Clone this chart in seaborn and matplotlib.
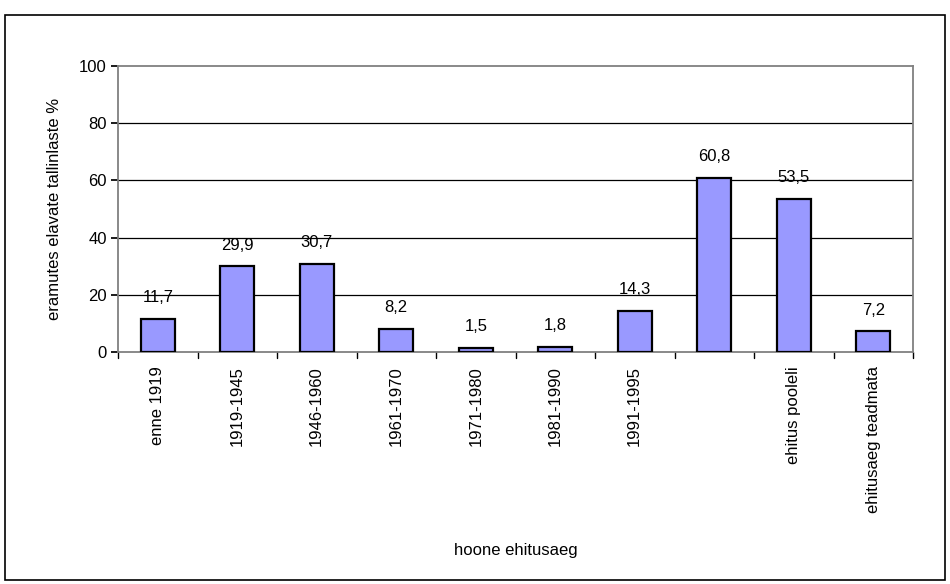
import matplotlib
matplotlib.use("Agg")
import matplotlib.pyplot as plt
import seaborn as sns
import pandas as pd
from matplotlib.patches import Rectangle

# andmed
kategooriad = ["enne 1919", "1919-1945", "1946-1960", "1961-1970", "1971-1980",
               "1981-1990", "1991-1995", " ", "ehitus pooleli", "ehitusaeg teadmata"]
vaartused = [11.7, 29.9, 30.7, 8.2, 1.5, 1.8, 14.3, 60.8, 53.5, 7.2]
y_ticks = [0, 20, 40, 60, 80, 100]

sns.set_theme(style="white")
plt.rcParams['font.family'] = ['Liberation Sans Narrow', 'Liberation Sans', 'DejaVu Sans']
plt.rcParams['text.color'] = 'black'
plt.rcParams['axes.labelcolor'] = 'black'
plt.rcParams['xtick.color'] = 'black'
plt.rcParams['ytick.color'] = 'black'

df = pd.DataFrame({"aeg": kategooriad, "osa": vaartused})

fig = plt.figure(figsize=(9.5, 5.84), dpi=100)
fig.patches.append(Rectangle((5 / 950, 4 / 584), 940 / 950, 565 / 584,
                             transform=fig.transFigure, fill=False,
                             edgecolor="black", linewidth=1.2))
ax = fig.add_axes([118 / 950, 1 - 352 / 584, (913 - 118) / 950, (352 - 66) / 584])

sns.barplot(data=df, x="aeg", y="osa", ax=ax, color="#9999FF", saturation=1,
            width=0.43, edgecolor="black", linewidth=1.6, zorder=3)

ax.set_ylim(0, 100)
ax.set_xlim(-0.5, len(kategooriad) - 0.5)
ax.set_yticks(y_ticks)
ax.set_yticklabels([str(t) for t in y_ticks], fontsize=12)
ax.set_xticks(range(len(kategooriad)))
ax.set_xticklabels(kategooriad, rotation=90, fontsize=12)
ax.tick_params(axis="x", length=0, pad=10)
ax.tick_params(axis="y", length=5, color="black", left=True, pad=3)

# kategooriate vahelised kriipsud
for i in range(len(kategooriad) + 1):
    ax.plot([i - 0.5, i - 0.5], [0, -2.2], color="black", lw=1, clip_on=False)

for y in y_ticks[1:-1]:
    ax.axhline(y, color="black", lw=0.9, zorder=1)

for side in ["top", "right", "left", "bottom"]:
    ax.spines[side].set_color("#808080")
    ax.spines[side].set_linewidth(1.3)

sildid = [f"{v:.1f}".replace(".", ",") for v in vaartused]
ax.bar_label(ax.containers[0], labels=sildid, padding=10, fontsize=12)

ax.set_ylabel("eramutes elavate tallinlaste %", fontsize=12, labelpad=12)
ax.set_xlabel("hoone ehitusaeg", fontsize=12, labelpad=22)

plt.savefig("out.png", dpi=100)
plt.close()
